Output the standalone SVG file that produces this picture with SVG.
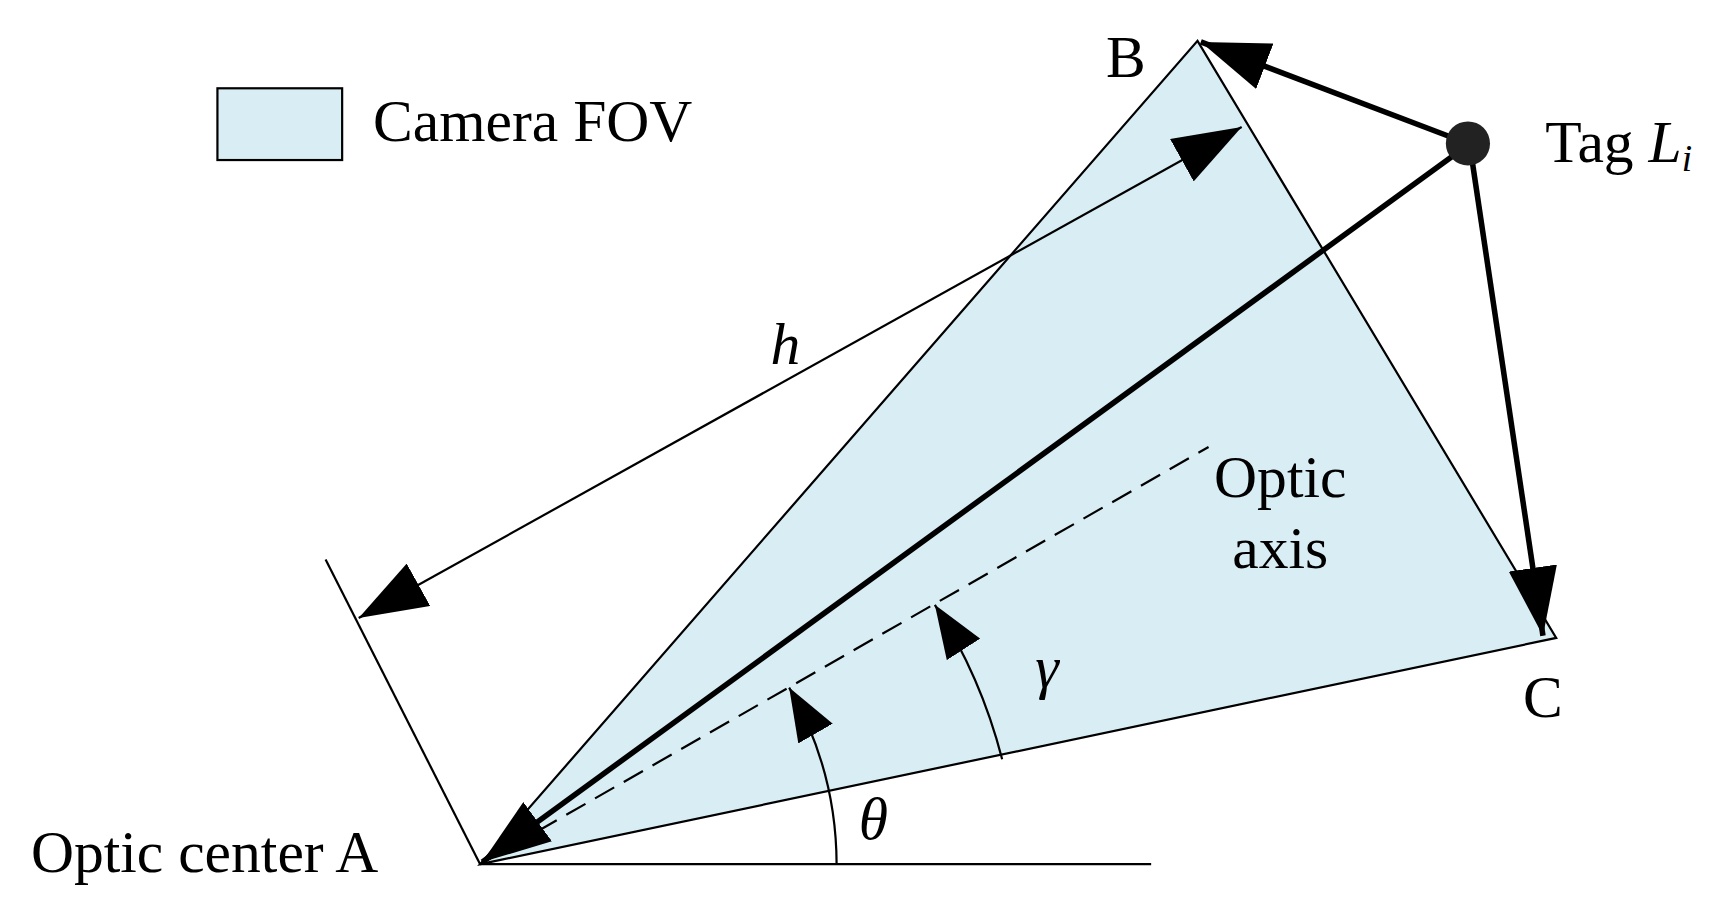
<svg xmlns="http://www.w3.org/2000/svg" width="1725" height="913" viewBox="0 0 1725 913">
<style>
text{font-family:"Liberation Serif","Times New Roman",serif;font-size:54px;fill:#000}
.it{font-style:italic}
.thin{stroke:#000;stroke-width:2;fill:none}
.thick{stroke:#000;stroke-width:5;fill:none}
</style>
<defs>
<marker id="big" markerUnits="userSpaceOnUse" markerWidth="64" markerHeight="44" refX="62" refY="22" orient="auto-start-reverse" viewBox="0 0 64 44"><path d="M0,0 L62,22 L0,44 z" fill="#000"/></marker>
<marker id="mid" markerUnits="userSpaceOnUse" markerWidth="50" markerHeight="36" refX="48" refY="18" orient="auto-start-reverse" viewBox="0 0 50 36"><path d="M0,0 L48,18 L0,36 z" fill="#000"/></marker>
</defs>
<rect width="1725" height="913" fill="#fff"/>
<g transform="scale(1.1037)">
<g id="fov"><polygon points="435,783 1085,37 1410,578" fill="#d9eef4" stroke="#000" stroke-width="2"/></g>
<g id="legend"><rect x="197" y="80" width="113" height="65" fill="#d9eef4" stroke="#000" stroke-width="2"/><text x="338" y="128">Camera FOV</text></g>
<g id="connectors">
<line class="thin" x1="435" y1="783" x2="1043" y2="783"/>
<line class="thin" x1="295" y1="507" x2="435" y2="783"/>
<line class="thin" x1="325" y1="560" x2="1125" y2="115" marker-start="url(#big)" marker-end="url(#big)"/>
<line class="thin" x1="435" y1="783" x2="1095" y2="405" stroke-dasharray="20,10"/>
<line class="thick" x1="1330" y1="130" x2="1088" y2="38" marker-end="url(#big)"/>
<line class="thick" x1="1333" y1="140" x2="1398" y2="576" marker-end="url(#big)"/>
<line class="thick" x1="1325" y1="135" x2="437" y2="781" marker-end="url(#big)"/>
<path class="thin" d="M758,783 A323,323 0 0 0 715,623" marker-end="url(#mid)"/>
<path class="thin" d="M908,688 A475,475 0 0 0 847,548" marker-end="url(#mid)"/>
</g>
<g id="tag"><circle cx="1330" cy="130" r="20" fill="#222"/><text x="1400" y="147">Tag <tspan class="it">L</tspan><tspan class="it" font-size="34" dy="8">i</tspan></text></g>
<g id="labels">
<text x="1002" y="70">B</text>
<text x="1380" y="650">C</text>
<text x="28" y="790">Optic center A</text>
<text x="1160" y="450" text-anchor="middle">Optic</text>
<text x="1160" y="515" text-anchor="middle">axis</text>
<text class="it" x="698" y="330">h</text>
<text class="it" x="778" y="760">θ</text>
<text class="it" x="938" y="622">γ</text>
</g>
</g>
</svg>
